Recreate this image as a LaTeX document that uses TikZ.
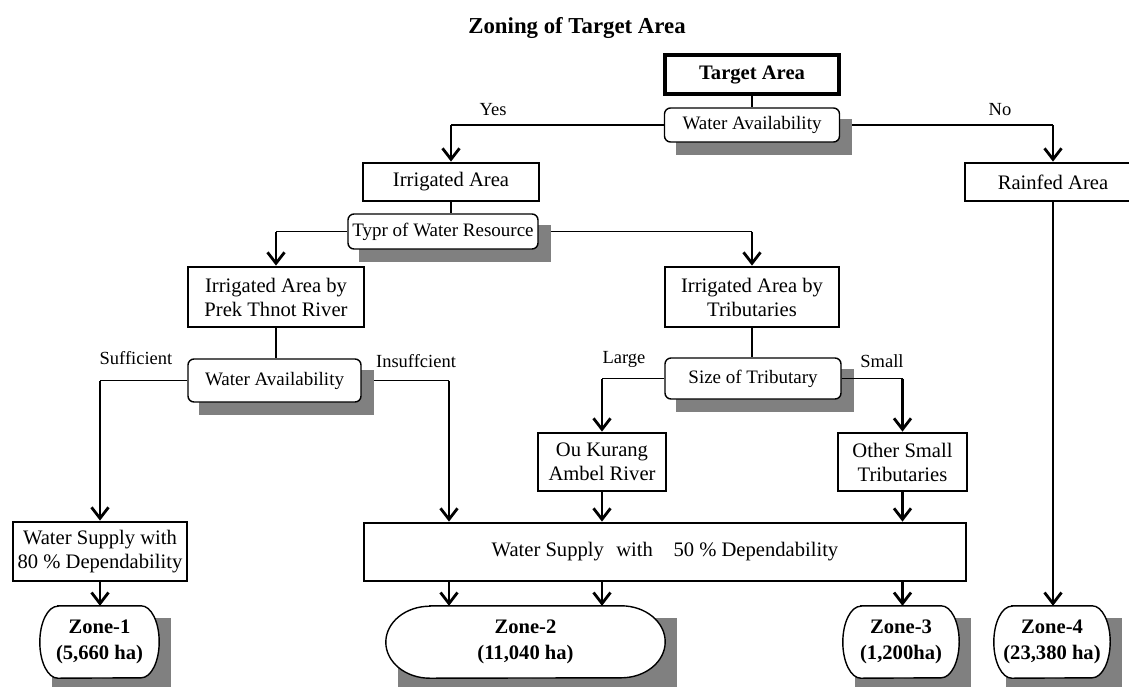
\documentclass[tikz,border=0pt]{standalone}
\usepackage{fontspec}
\setmainfont{Liberation Serif}
\usetikzlibrary{arrows.meta,backgrounds,calc}
\newcommand{\zoneoutline}[2]{%
  \draw[zline] ($(#1.north west)+(#2,0)$) -- ($(#1.north east)+(-#2,0)$)
    arc[start angle=90,end angle=-90,x radius=#2pt,y radius=36pt]
    -- ($(#1.south west)+(#2,0)$)
    arc[start angle=270,end angle=90,x radius=#2pt,y radius=36pt] -- cycle;}
\begin{document}
\begin{tikzpicture}[x=1pt,y=1pt,
  rbox/.style={draw,line width=2.8pt,fill=white,inner sep=0pt,align=center,font=\fontsize{20.6}{24}\selectfont},
  dbox/.style={draw,line width=1.4pt,fill=white,rounded corners=6pt,inner sep=0pt,font=\fontsize{19}{22}\selectfont},
  lbl/.style={anchor=base,inner sep=0pt,font=\fontsize{18.5}{22}\selectfont},
  ztext/.style={inner sep=0pt,align=center,font=\fontsize{20.6}{25.5}\selectfont\bfseries},
  conn/.style={line width=1.4pt},
  arr/.style={line width=2.8pt,-{Straight Barb[length=11pt,width=17pt]}},
  shade/.style={fill=black!50},
  zline/.style={draw,line width=1.4pt,fill=white}]
\useasboundingbox (0,0) rectangle (1129,-686);
\clip (0,0) rectangle (1129,-686);
% title
\node[font=\fontsize{22.8}{27}\selectfont\bfseries,anchor=base,inner sep=0pt] (title) at (577,-33) {Zoning of Target Area};
% boxes
\node[rbox,line width=3.2pt,minimum width=174pt,minimum height=39pt] (target) at (752,-74.5) {\bfseries Target Area};
\node[dbox,minimum width=175pt,minimum height=34pt] (wa1) at (752,-125) {Water Availability};
\node[rbox,minimum width=176pt,minimum height=38pt] (irr) at (451,-182) {Irrigated Area};
\node[rbox,minimum width=176pt,minimum height=38pt] (rain) at (1053,-182) {Rainfed Area};
\node[dbox,minimum width=190pt,minimum height=35pt] (typr) at (443,-231.5) {Typr of Water Resource};
\node[rbox,minimum width=176pt,minimum height=60pt] (prek) at (276,-297) {Irrigated Area by\\Prek Thnot River};
\node[rbox,minimum width=174pt,minimum height=60pt] (trib) at (752,-297) {Irrigated Area by\\Tributaries};
\node[dbox,minimum width=173pt,minimum height=43pt] (wa2) at (274.5,-380.5) {Water Availability};
\node[dbox,minimum width=176pt,minimum height=41pt] (size) at (753,-378.5) {Size of Tributary};
\node[rbox,minimum width=128pt,minimum height=58pt] (ou) at (602,-462) {Ou Kurang\\Ambel River};
\node[rbox,minimum width=129pt,minimum height=58pt] (other) at (902.5,-462) {Other Small\\Tributaries};
\node[rbox,minimum width=174pt,minimum height=59pt] (ws80) at (100,-551.5) {Water Supply with\\80 \% Dependability};
\node[rbox,minimum width=602pt,minimum height=58pt] (ws50) at (665,-552) {Water Supply\hspace{0.35em} with\hspace{0.75em} 50 \% Dependability};
% zones
\node[ztext,minimum width=119pt,minimum height=72pt] (z1) at (99.5,-642) {Zone-1\\(5,660 ha)};
\node[ztext,minimum width=279pt,minimum height=72pt] (z2) at (525.5,-642) {Zone-2\\(11,040 ha)};
\node[ztext,minimum width=116pt,minimum height=72pt] (z3) at (901,-642) {Zone-3\\(1,200ha)};
\node[ztext,minimum width=116pt,minimum height=72pt] (z4) at (1052,-642) {Zone-4\\(23,380 ha)};
% labels
\node[lbl] (yes) at (493,-115) {Yes};
\node[lbl] (no) at (1000,-115) {No};
\node[lbl] (suf) at (136,-364) {Sufficient};
\node[lbl] (insuf) at (416,-367) {Insuffcient};
\node[lbl] (large) at (624,-363) {Large};
\node[lbl] (small) at (882,-367) {Small};
\coordinate (insx) at (449,-381);
\begin{scope}[on background layer]
 \draw[conn] (target.south) -- (wa1.north);
 \draw[conn] (wa1.west) -- (wa1.west -| irr.north);
 \draw[arr] (wa1.west -| irr.north) -- (irr.north);
 \draw[conn] (wa1.east) -- (wa1.east -| rain.north);
 \draw[arr] (wa1.east -| rain.north) -- (rain.north);
 \draw[conn] (irr.south) -- (irr.south |- typr.north);
 \draw[conn] (typr.west) -- (typr.west -| prek.north);
 \draw[arr] (typr.west -| prek.north) -- (prek.north);
 \draw[conn] (typr.east) -- (typr.east -| trib.north);
 \draw[arr] (typr.east -| trib.north) -- (trib.north);
 \draw[conn] (prek.south) -- (prek.south |- wa2.north);
 \draw[conn] (wa2.west) -- (wa2.west -| ws80.north);
 \draw[arr] (wa2.west -| ws80.north) -- (ws80.north);
 \draw[conn] (wa2.east) -- (wa2.east -| insx);
 \draw[arr] (wa2.east -| insx) -- (insx |- ws50.north);
 \draw[conn] (trib.south) -- (trib.south |- size.north);
 \draw[conn] (size.west) -- (size.west -| ou.north);
 \draw[arr] (size.west -| ou.north) -- (ou.north);
 \draw[arr] (size.east -| other.north) -- (other.north);
 \draw[arr] (ou.south) -- (ou.south |- ws50.north);
 \draw[arr] (other.south) -- (other.south |- ws50.north);
 \draw[arr] (ws80.south) -- (ws80.south |- z1.north);
 \draw[arr] (insx |- ws50.south) -- (insx |- z2.north);
 \draw[arr] (ou.south |- ws50.south) -- (ou.south |- z2.north);
 \draw[arr] (other.south |- ws50.south) -- (other.south |- z3.north);
 \draw[arr] (rain.south) -- (rain.south |- z4.north);
 \foreach \n in {wa1,typr,wa2,size,z1,z2,z3,z4}
   \fill[shade] ($(\n.north west)+(12,-12)$) rectangle ($(\n.south east)+(12,-12)$);
 \zoneoutline{z1}{18}
 \zoneoutline{z2}{44}
 \zoneoutline{z3}{18}
 \zoneoutline{z4}{18}
\end{scope}
\draw[conn] (size.east) -- (size.east -| other.north);
\end{tikzpicture}
\end{document}
